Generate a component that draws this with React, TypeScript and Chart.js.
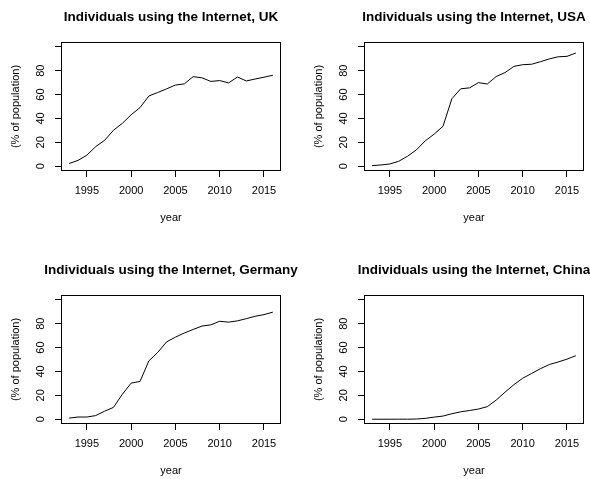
import React, { useEffect, useRef } from 'react';
import { Chart, registerables } from 'chart.js';

Chart.register(...registerables);

// Share of population using the Internet, 1993-2016
const years = [
  1993, 1994, 1995, 1996, 1997, 1998, 1999, 2000, 2001, 2002, 2003, 2004,
  2005, 2006, 2007, 2008, 2009, 2010, 2011, 2012, 2013, 2014, 2015, 2016,
];

const ukValues = [
  2.27, 4.86, 9.24, 16.42, 21.62, 30.09, 35.85, 43.08, 49.08, 58.79, 61.7, 64.76,
  67.97, 68.93, 75.0, 74.0, 71.0, 71.69, 69.73, 74.7, 71.4, 73.0, 74.55, 76.18,
];

const usaValues = [
  0.52, 1.04, 1.9, 4.12, 8.41, 13.67, 21.29, 26.82, 33.48, 56.48, 64.82, 65.61,
  70.0, 68.82, 75.09, 78.39, 83.56, 85.0, 85.38, 87.48, 89.84, 91.61, 92.0, 94.78,
];

const germanyValues = [
  0.92, 1.84, 1.84, 3.05, 6.71, 9.88, 20.85, 30.22, 31.65, 48.82, 55.9, 64.73,
  68.71, 72.16, 75.16, 78.0, 79.0, 82.0, 81.27, 82.35, 84.17, 86.19, 87.59, 89.65,
];

const chinaValues = [
  0.0002, 0.0012, 0.0049, 0.0327, 0.0325, 0.17, 0.71, 1.78, 2.64, 4.6, 6.2, 7.3,
  8.52, 10.52, 16.0, 22.6, 28.9, 34.3, 38.3, 42.3, 45.8, 47.9, 50.3, 53.2,
];

const xTicks = [1995, 2000, 2005, 2010, 2015];
const yTicks = [0, 20, 40, 60, 80, 100];
const yTickLabels = ['0', '20', '40', '60', '80', ''];

const titles = [
  'Individuals using the Internet, UK',
  'Individuals using the Internet, USA',
  'Individuals using the Internet, Germany',
  'Individuals using the Internet, China',
];

const FONT = "'Liberation Sans', Arial, sans-serif";
const LEFT_MARGIN = 61;
const PLOT_W = 220;
// a blank right-hand axis as wide as the left one keeps the title centred over the plot
const CANVAS_W = LEFT_MARGIN + PLOT_W + LEFT_MARGIN;
const CANVAS_H = 240;

// Plain frame around the plotting region
const framePlugin = {
  id: 'frame',
  afterDraw(chart: any) {
    const { ctx, chartArea: a } = chart;
    ctx.save();
    ctx.strokeStyle = '#000';
    ctx.lineWidth = 1;
    const x0 = Math.round(a.left) + 0.5;
    const x1 = Math.round(a.right) - 0.5;
    const y0 = Math.round(a.top) + 0.5;
    const y1 = Math.round(a.bottom) - 0.5;
    ctx.strokeRect(x0, y0, x1 - x0, y1 - y0);
    ctx.restore();
  },
};

function Panel({ title, values, left, top }: { title: string; values: number[]; left: number; top: number }) {
  const ref = useRef<HTMLCanvasElement | null>(null);

  useEffect(() => {
    if (!ref.current) return;
    const chart = new Chart(ref.current, {
      type: 'line',
      data: {
        datasets: [
          {
            data: years.map((yr, i) => ({ x: yr, y: values[i] })),
            borderColor: '#000',
            borderWidth: 1,
            pointRadius: 0,
            tension: 0,
            fill: false,
            yAxisID: 'y',
          },
        ],
      },
      options: {
        responsive: false,
        animation: false,
        layout: { padding: 0 },
        plugins: {
          legend: { display: false },
          tooltip: { enabled: false },
          title: {
            display: true,
            text: title,
            color: '#000',
            font: { family: FONT, size: 13.5, weight: 'bold' },
            padding: { top: 8.8, bottom: 17 },
          },
        },
        scales: {
          x: {
            type: 'linear',
            min: 1992.08,
            max: 2016.92,
            afterBuildTicks: (s: any) => {
              s.ticks = xTicks.map((v) => ({ value: v }));
            },
            afterFit: (s: any) => {
              s.height = 69;
            },
            border: { display: false },
            grid: { drawOnChartArea: false, drawTicks: true, tickLength: 6, color: '#000', lineWidth: 1 },
            ticks: {
              autoSkip: false,
              minRotation: 0,
              maxRotation: 0,
              padding: 7,
              color: '#000',
              font: { family: FONT, size: 11 },
              callback: (v: any) => String(v),
            },
            title: {
              display: true,
              text: 'year',
              color: '#000',
              font: { family: FONT, size: 11 },
              padding: { top: 0, bottom: 15.4 },
            },
          },
          y: {
            type: 'linear',
            position: 'left',
            min: -4,
            max: 104,
            afterBuildTicks: (s: any) => {
              s.ticks = yTicks.map((v) => ({ value: v }));
            },
            afterFit: (s: any) => {
              s.width = LEFT_MARGIN;
            },
            border: { display: false },
            grid: { drawOnChartArea: false, drawTicks: true, tickLength: 6, color: '#000', lineWidth: 1 },
            ticks: {
              autoSkip: false,
              minRotation: 90,
              maxRotation: 90,
              crossAlign: 'center',
              padding: 8,
              color: '#000',
              font: { family: FONT, size: 11 },
              callback: (_v: any, i: number) => yTickLabels[i],
            },
            title: {
              display: true,
              text: '(% of population)',
              color: '#000',
              font: { family: FONT, size: 11 },
              padding: { top: 9, bottom: 0 },
            },
          },
          spacer: {
            type: 'linear',
            position: 'right',
            afterFit: (s: any) => {
              s.width = LEFT_MARGIN;
            },
            border: { display: false },
            grid: { display: false },
            ticks: { display: false },
          },
        },
      } as any,
      plugins: [framePlugin],
    });
    return () => chart.destroy();
  }, [title, values]);

  return (
    <canvas
      ref={ref}
      width={CANVAS_W}
      height={CANVAS_H}
      style={{ position: 'absolute', left, top, width: CANVAS_W, height: CANVAS_H }}
    />
  );
}

export default function App() {
  const series = [ukValues, usaValues, germanyValues, chinaValues];
  const positions = [
    { left: 0, top: 0 },
    { left: 303, top: 0 },
    { left: 0, top: 253 },
    { left: 303, top: 253 },
  ];
  return (
    <div
      style={{
        position: 'absolute',
        left: 0,
        top: 0,
        width: 590,
        height: 479,
        overflow: 'hidden',
        background: '#fff',
      }}
    >
      {titles.map((t, i) => (
        <Panel key={t} title={t} values={series[i]} left={positions[i].left} top={positions[i].top} />
      ))}
    </div>
  );
}
